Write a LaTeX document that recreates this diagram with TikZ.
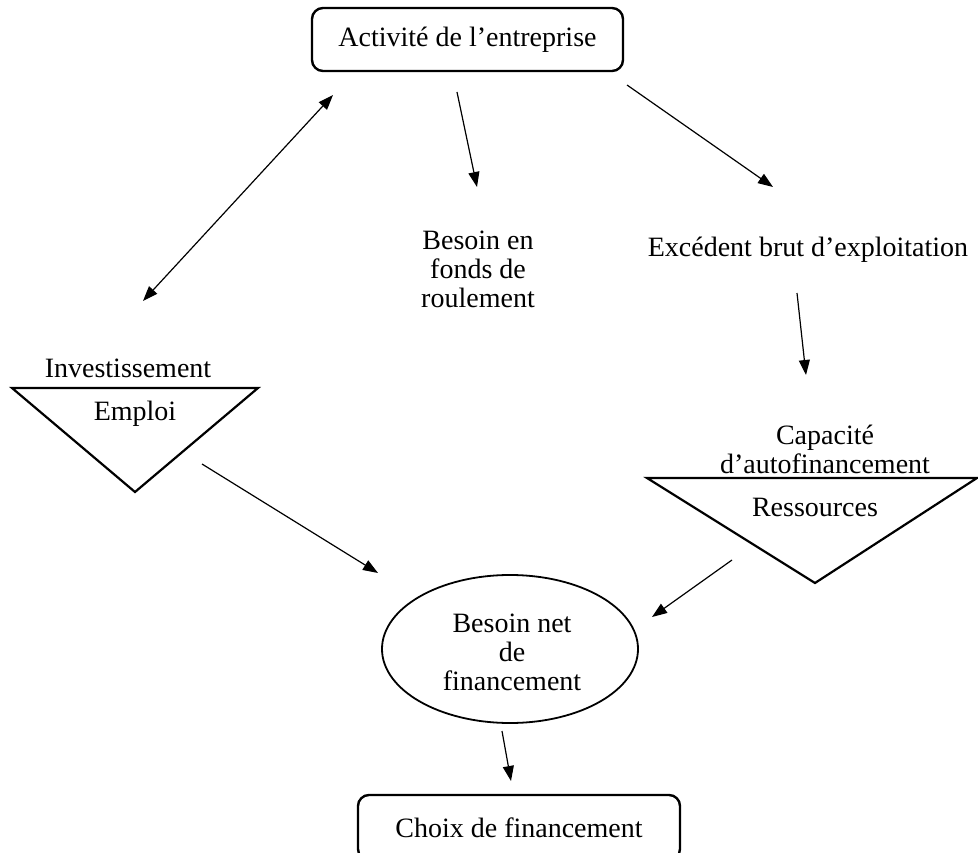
\documentclass[tikz,border=0pt]{standalone}
\usepackage{fontspec}
\setmainfont{Liberation Serif}
\usetikzlibrary{shapes.geometric,arrows.meta}
\begin{document}
\begin{tikzpicture}[x=1pt,y=-1pt,
  every node/.style={font=\fontsize{28}{29}\selectfont, inner sep=0pt, align=center},
  boxnode/.style={draw, line width=2.4pt, rounded corners=11pt},
  ellnode/.style={draw, ellipse, line width=1.8pt},
  tri/.style={draw, line width=2.2pt, line join=miter},
  conn/.style={line width=1.2pt, -{Triangle[length=15pt,width=11pt]}},
  biconn/.style={line width=1.2pt, {Triangle[length=15pt,width=11pt]}-{Triangle[length=15pt,width=11pt]}}]
\clip (0,0) rectangle (978,853);
\fill[white] (0,0) rectangle (978,853);

% nodes
\node[boxnode, minimum width=311pt, minimum height=63pt] (act) at (467.5,39.5) {Activité de l’entreprise};
\node (bfr) at (478,269) {Besoin en\\fonds de\\roulement};
\node (ebe) at (808,250) {Excédent brut d’exploitation};
\node (inv) at (128,368) {Investissement};
\node (emp) at (135,414) {Emploi};
\node (caf) at (825,449) {Capacité\\d’autofinancement};
\node (res) at (815,507) {Ressources};
\node[ellnode, minimum width=256pt, minimum height=148pt] (bnf) at (510,649) {};
\node (bnft) at (512,652) {Besoin net\\de\\financement};
\node[boxnode, minimum width=322pt, minimum height=65pt] (choix) at (519,827.5) {Choix de financement};

% triangles
\coordinate (t1a) at (12,388);
\coordinate (t1b) at (258,388);
\coordinate (t1c) at (135,492);
\draw[tri] (t1a) -- (t1b) -- (t1c) -- cycle;
\coordinate (t2a) at (647,478);
\coordinate (t2b) at (977,478);
\coordinate (t2c) at (815,583);
\draw[tri] (t2a) -- (t2b) -- (t2c) -- cycle;

% connector end points
\coordinate (d1) at (333,95);
\coordinate (d2) at (143,301);
\coordinate (a1s) at (457,92);
\coordinate (a1e) at (477,187);
\coordinate (a2s) at (627,85);
\coordinate (a2e) at (773,187);
\coordinate (a3s) at (797,293);
\coordinate (a3e) at (806,375);
\coordinate (a4s) at (202,464);
\coordinate (a4e) at (378,573);
\coordinate (a5s) at (732,560);
\coordinate (a5e) at (652,617);
\coordinate (a6s) at (502,731);
\coordinate (a6e) at (511,781);

\draw[biconn] (d2) -- (d1);
\draw[conn] (a1s) -- (a1e);
\draw[conn] (a2s) -- (a2e);
\draw[conn] (a3s) -- (a3e);
\draw[conn] (a4s) -- (a4e);
\draw[conn] (a5s) -- (a5e);
\draw[conn] (a6s) -- (a6e);
\end{tikzpicture}
\end{document}
